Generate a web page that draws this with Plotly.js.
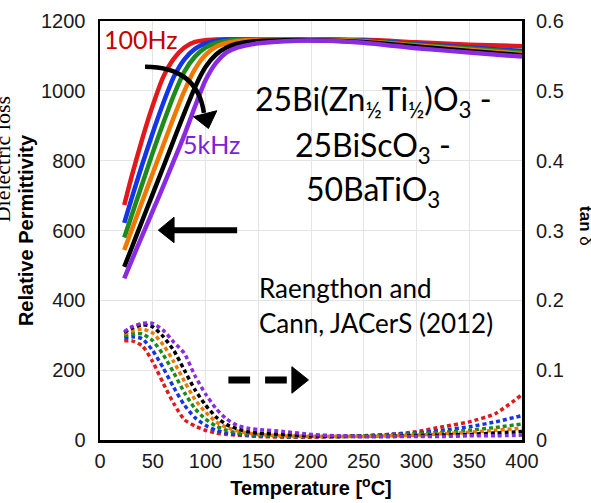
<!DOCTYPE html>
<html>
<head>
<meta charset="utf-8">
<script src="https://cdn.plot.ly/plotly-3.0.1.min.js"></script>
<style>html,body{margin:0;padding:0;background:#fff;}#chart{width:591px;height:503px;}</style>
</head>
<body>
<div id="chart"></div>
<script>
// ---- data ----
const seriesNames = ['100Hz', '200Hz', '500Hz', '1kHz', '2kHz', '5kHz'];
const seriesColors = ['#e3181a', '#1434e8', '#1c8a1c', '#f07800', '#000000', '#8a2be2'];

const tempPerm = [23, 30, 40, 50, 60, 70, 80, 90, 100, 110, 120, 130, 140, 150, 175, 200, 250, 300, 350, 400];
const permRed    = [673, 755, 862, 958, 1040, 1092, 1124, 1140, 1145, 1147, 1148, 1148, 1148, 1148, 1148, 1148, 1146, 1139, 1132, 1128];
const permBlue   = [622, 692, 789, 880, 965, 1040, 1090, 1120, 1136, 1143, 1146, 1147, 1147, 1147, 1147, 1147, 1144, 1134, 1124, 1114];
const permGreen  = [580, 643, 733, 823, 908, 988, 1055, 1098, 1124, 1137, 1143, 1146, 1147, 1147, 1147, 1147, 1143, 1132, 1121, 1110];
const permOrange = [544, 601, 683, 764, 845, 925, 1000, 1062, 1103, 1126, 1137, 1143, 1145, 1146, 1146, 1146, 1142, 1130, 1118, 1106];
const permBlack  = [496, 550, 628, 705, 782, 860, 937, 1010, 1068, 1104, 1124, 1135, 1140, 1143, 1145, 1145, 1140, 1127, 1114, 1102];
const permPurple = [463, 514, 585, 656, 727, 800, 874, 955, 1030, 1080, 1110, 1124, 1131, 1136, 1142, 1144, 1138, 1122, 1110, 1098];

const tempLoss = [23, 30, 40, 50, 60, 70, 80, 90, 100, 110, 120, 130, 140, 150, 175, 200, 225, 250, 275, 300, 325, 350, 375, 400];
const lossRed    = [0.142, 0.142, 0.135, 0.112, 0.081, 0.052, 0.029, 0.020, 0.014, 0.010, 0.008, 0.007, 0.006, 0.005, 0.004, 0.004, 0.005, 0.006, 0.008, 0.012, 0.019, 0.026, 0.038, 0.065];
const lossBlue   = [0.146, 0.148, 0.145, 0.128, 0.103, 0.075, 0.050, 0.032, 0.021, 0.014, 0.010, 0.008, 0.007, 0.006, 0.005, 0.005, 0.005, 0.006, 0.008, 0.010, 0.014, 0.019, 0.026, 0.035];
const lossGreen  = [0.149, 0.152, 0.152, 0.142, 0.122, 0.096, 0.068, 0.045, 0.030, 0.020, 0.014, 0.010, 0.008, 0.007, 0.005, 0.005, 0.005, 0.006, 0.007, 0.009, 0.011, 0.014, 0.018, 0.023];
const lossOrange = [0.152, 0.156, 0.159, 0.153, 0.136, 0.112, 0.084, 0.058, 0.040, 0.026, 0.018, 0.013, 0.010, 0.008, 0.006, 0.005, 0.005, 0.005, 0.006, 0.007, 0.009, 0.011, 0.014, 0.017];
const lossBlack  = [0.154, 0.160, 0.165, 0.162, 0.148, 0.128, 0.100, 0.072, 0.050, 0.033, 0.022, 0.016, 0.012, 0.010, 0.008, 0.006, 0.005, 0.005, 0.005, 0.006, 0.007, 0.008, 0.010, 0.012];
const lossPurple = [0.155, 0.162, 0.167, 0.167, 0.157, 0.140, 0.124, 0.092, 0.066, 0.045, 0.030, 0.021, 0.017, 0.015, 0.012, 0.008, 0.006, 0.005, 0.005, 0.005, 0.005, 0.006, 0.006, 0.007];

const xTicks = [0, 50, 100, 150, 200, 250, 300, 350, 400];
const yTicksPerm = [0, 200, 400, 600, 800, 1000, 1200];
const yTicksLoss = [0, 0.1, 0.2, 0.3, 0.4, 0.5, 0.6];
const yTickTextLoss = ['0', '0.1', '0.2', '0.3', '0.4', '0.5', '0.6'];

const permSeries = [permRed, permBlue, permGreen, permOrange, permBlack, permPurple];
const lossSeries = [lossRed, lossBlue, lossGreen, lossOrange, lossBlack, lossPurple];

// ---- traces ----
const traces = [];
lossSeries.forEach((ys, i) => {
  traces.push({
    x: tempLoss, y: ys, yaxis: 'y2', type: 'scatter', mode: 'lines',
    name: seriesNames[i] + ' tan δ', showlegend: false,
    line: {color: seriesColors[i], width: 3.5, dash: '4px,3px', shape: 'spline', smoothing: 0.6}
  });
});
permSeries.forEach((ys, i) => {
  traces.push({
    x: tempPerm, y: ys, type: 'scatter', mode: 'lines',
    name: seriesNames[i], showlegend: false,
    line: {color: seriesColors[i], width: 4.5, shape: 'spline', smoothing: 0.6}
  });
});

const tickFont = {family: 'Liberation Sans, Arial, sans-serif', size: 20, color: '#1a1a1a'};
const noteFont = 'Lato, Calibri, sans-serif';

const layout = {
  width: 591, height: 503,
  margin: {l: 100, r: 69, t: 21, b: 63},
  paper_bgcolor: '#ffffff', plot_bgcolor: '#ffffff',
  showlegend: false,
  xaxis: {
    range: [0, 400], tickvals: xTicks, ticktext: xTicks.map(String),
    showgrid: true, gridcolor: '#e4e4e4', gridwidth: 1,
    showline: true, linecolor: '#000', linewidth: 2.5, mirror: true,
    ticks: 'outside', ticklen: 1, tickcolor: 'rgba(0,0,0,0)',
    tickfont: tickFont, zeroline: false,
    title: {text: 'Temperature [<sup>o</sup>C]', font: {family: 'Liberation Sans, Arial, sans-serif', size: 20, color: '#000', weight: 'bold'}, standoff: 11}
  },
  yaxis: {
    range: [0, 1200], tickvals: yTicksPerm, ticktext: yTicksPerm.map(String),
    showgrid: true, gridcolor: '#e4e4e4', gridwidth: 1,
    showline: true, linecolor: '#000', linewidth: 2.5, mirror: true,
    ticks: 'outside', ticklen: 8, tickcolor: 'rgba(0,0,0,0)',
    tickfont: tickFont, zeroline: false,
    title: {text: 'Relative Permittivity', font: {family: 'Liberation Sans, Arial, sans-serif', size: 20, color: '#000', weight: 'bold'}, standoff: 2}
  },
  yaxis2: {
    range: [0, 0.6], tickvals: yTicksLoss, ticktext: yTickTextLoss,
    overlaying: 'y', side: 'right', showgrid: false, zeroline: false,
    showline: false,
    ticks: 'outside', ticklen: 9, tickcolor: 'rgba(0,0,0,0)',
    tickfont: tickFont
  },
  annotations: [
    {xref: 'x', yref: 'y', x: 38.6, y: 1148, text: '100Hz', showarrow: false,
     font: {family: noteFont, size: 25, color: '#c80000'}, xanchor: 'center', yanchor: 'middle'},
    {xref: 'x', yref: 'y', x: 106, y: 848, text: '5kHz', showarrow: false,
     font: {family: noteFont, size: 25, color: '#7b22d8'}, xanchor: 'center', yanchor: 'middle'},
    {xref: 'x', yref: 'y', x: 259, y: 972, text: '25Bi(Zn<sub>½</sub>Ti<sub>½</sub>)O<sub>3</sub> -', showarrow: false,
     font: {family: noteFont, size: 32, color: '#000'}, xanchor: 'center', yanchor: 'middle'},
    {xref: 'x', yref: 'y', x: 259, y: 840, text: '25BiScO<sub>3</sub> -', showarrow: false,
     font: {family: noteFont, size: 32, color: '#000'}, xanchor: 'center', yanchor: 'middle'},
    {xref: 'x', yref: 'y', x: 259, y: 712, text: '50BaTiO<sub>3</sub>', showarrow: false,
     font: {family: noteFont, size: 32, color: '#000'}, xanchor: 'center', yanchor: 'middle'},
    {xref: 'x', yref: 'y', x: 149, y: 436, text: 'Raengthon and', showarrow: false,
     font: {family: noteFont, size: 26, color: '#000'}, xanchor: 'left', yanchor: 'middle'},
    {xref: 'x', yref: 'y', x: 149, y: 336, text: 'Cann, JACerS (2012)', showarrow: false,
     font: {family: noteFont, size: 26, color: '#000'}, xanchor: 'left', yanchor: 'middle'},
    {xref: 'paper', yref: 'paper', x: 1.15, y: 0.51, text: '<b>tan</b> δ', showarrow: false, textangle: 90,
     font: {family: 'Liberation Sans, Arial, sans-serif', size: 17, color: '#000'}, xanchor: 'center', yanchor: 'middle'},
    {xref: 'paper', yref: 'paper', x: -0.232, y: 0.67, text: 'Dielectric loss', showarrow: false, textangle: -90,
     font: {family: 'Liberation Serif, Times New Roman, serif', size: 22, color: '#000'}, xanchor: 'center', yanchor: 'middle'}
  ],
  shapes: [
    // solid arrow pointing left (permittivity axis)
    {type: 'line', xref: 'x', yref: 'y', x0: 69, y0: 601, x1: 130, y1: 601, line: {color: '#000', width: 6}},
    {type: 'path', xref: 'x', yref: 'y', path: 'M 55.3,601 L 70.2,638 L 70.2,565 Z', fillcolor: '#000', line: {color: '#000', width: 1}},
    // dashed arrow pointing right (loss axis)
    {type: 'line', xref: 'x', yref: 'y', x0: 121.7, y0: 172, x1: 177.1, y1: 172, line: {color: '#000', width: 7, dash: '21.7px,15px'}},
    {type: 'path', xref: 'x', yref: 'y', path: 'M 197.6,172 L 181.9,210 L 181.9,134 Z', fillcolor: '#000', line: {color: '#000', width: 1}},
    // curved arrow 100Hz -> 5kHz
    {type: 'path', xref: 'x', yref: 'y', path: 'M 42.7,1069 Q 92,1069 98.5,937', line: {color: '#000', width: 4.5}},
    {type: 'path', xref: 'x', yref: 'y', path: 'M 102.8,892 L 88.5,926 L 110.7,943 Z', fillcolor: '#000', line: {color: '#000', width: 1}}
  ]
};

Plotly.newPlot('chart', traces, layout, {displayModeBar: false, staticPlot: true});
</script>
</body>
</html>
